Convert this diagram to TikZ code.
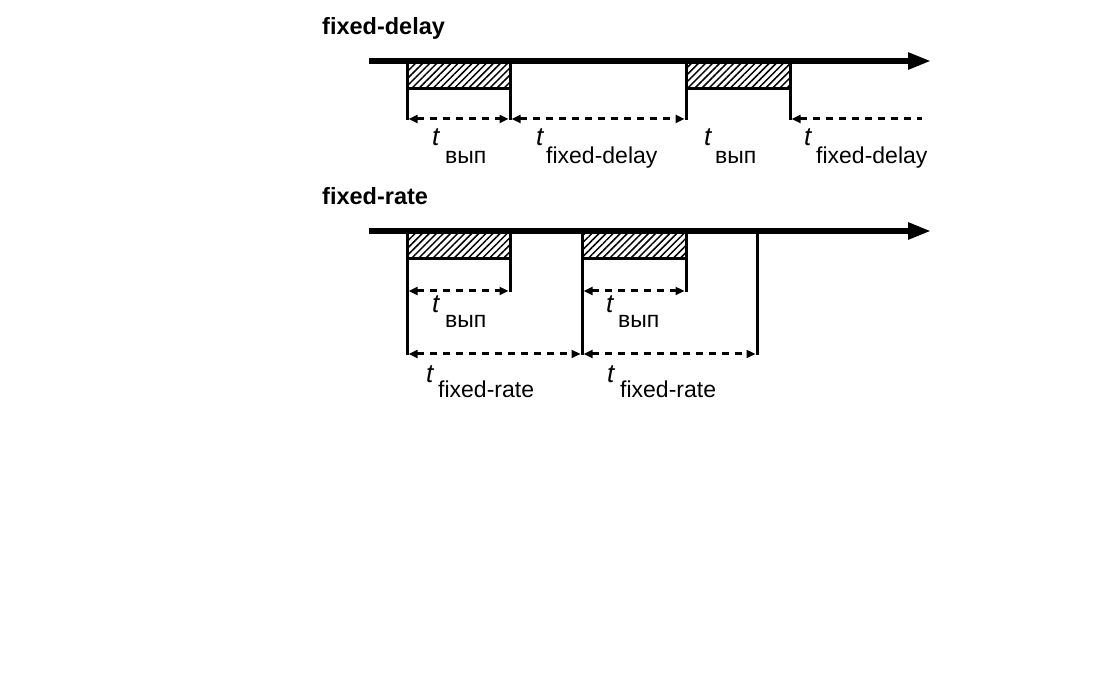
\documentclass[tikz,border=0pt]{standalone}
\usepackage{fontspec}
\setmainfont{Liberation Sans}
\usetikzlibrary{arrows.meta,patterns.meta}
\begin{document}
\begin{tikzpicture}[x=1pt,y=-1pt,
  axis/.style={line width=5.5pt,-{Triangle[length=23pt,width=16pt]}},
  tick/.style={line width=3pt},
  dim/.style={line width=3pt,dash pattern=on 7pt off 6pt,{Triangle[length=9pt,width=8pt]}-{Triangle[length=9pt,width=8pt]}},
  dimL/.style={line width=3pt,dash pattern=on 7pt off 6pt,{Triangle[length=9pt,width=8pt]}-},
  hatch/.style={pattern={Lines[angle=45,distance=5pt,line width=1.5pt]}},
  ttl/.style={inner sep=0pt,anchor=base west,font=\fontsize{23.5}{24}\selectfont\bfseries},
  tv/.style={inner sep=0pt,anchor=base west,font=\fontsize{26}{26}\selectfont\itshape},
  sub/.style={inner sep=0pt,anchor=base west,font=\fontsize{23}{23}\selectfont}]
\useasboundingbox (0,0) rectangle (1098,684);

% ---------- fixed-delay ----------
\node[ttl] (title1) at (322,35) {fixed-delay};
\coordinate (s1) at (369,61);
\coordinate (e1) at (931,61);
\path[hatch] (407,63.5) rectangle (510,88);
\path[hatch] (686,63.5) rectangle (790,88);
\draw[tick] (407,89) -- (510,89);
\draw[tick] (686,89) -- (790,89);
\draw[axis] (s1) -- (e1);
\foreach \x/\n in {407/a,510/b,686/c,790/d}{
  \coordinate (\n-top) at (\x,59);
  \coordinate (\n-bot) at (\x,120.5);
  \coordinate (\n-dim) at (\x,119);
  \draw[tick] (\n-top) -- (\n-bot);
}
\coordinate (end1) at (922,119);
\draw[dim] ([xshift=1.5pt]a-dim) -- ([xshift=-1.5pt]b-dim);
\draw[dim] ([xshift=1.5pt]b-dim) -- ([xshift=-1.5pt]c-dim);
\draw[dimL] ([xshift=1.5pt]d-dim) -- (end1);

\node[tv] (t1) at (432,146) {t};
\node[sub] (s1l) at (445,164) {вып};
\node[tv] (t2) at (536,146) {t};
\node[sub] (s2l) at (546,164) {fixed-delay};
\node[tv] (t3) at (704,146) {t};
\node[sub] (s3l) at (715,164) {вып};
\node[tv] (t4) at (804,146) {t};
\node[sub] (s4l) at (816,164) {fixed-delay};

% ---------- fixed-rate ----------
\node[ttl] (title2) at (322,205) {fixed-rate};
\coordinate (s2) at (369,231);
\coordinate (e2) at (931,231);
\path[hatch] (407,233.5) rectangle (510,258);
\path[hatch] (582,233.5) rectangle (686,258);
\draw[tick] (407,259) -- (510,259);
\draw[tick] (582,259) -- (686,259);
\draw[axis] (s2) -- (e2);
\foreach \x/\n/\y in {407/p/355.5,510/q/292.5,582/r/355.5,686/u/292.5,757/v/355.5}{
  \coordinate (\n-top) at (\x,229);
  \coordinate (\n-bot) at (\x,\y);
  \draw[tick] (\n-top) -- (\n-bot);
}
\coordinate (p-hi) at (407,291);
\coordinate (q-hi) at (510,291);
\coordinate (r-hi) at (582,291);
\coordinate (u-hi) at (686,291);
\coordinate (p-lo) at (407,354);
\coordinate (r-lo) at (582,354);
\coordinate (v-lo) at (757,354);
\draw[dim] ([xshift=1.5pt]p-hi) -- ([xshift=-1.5pt]q-hi);
\draw[dim] ([xshift=1.5pt]r-hi) -- ([xshift=-1.5pt]u-hi);
\draw[dim] ([xshift=1.5pt]p-lo) -- ([xshift=-1.5pt]r-lo);
\draw[dim] ([xshift=1.5pt]r-lo) -- ([xshift=-1.5pt]v-lo);

\node[tv] (t5) at (432,313) {t};
\node[sub] (s5l) at (445,328) {вып};
\node[tv] (t6) at (606,313) {t};
\node[sub] (s6l) at (618,328) {вып};
\node[tv] (t7) at (426,383) {t};
\node[sub] (s7l) at (438,398) {fixed-rate};
\node[tv] (t8) at (607,383) {t};
\node[sub] (s8l) at (620,398) {fixed-rate};
\end{tikzpicture}
\end{document}
